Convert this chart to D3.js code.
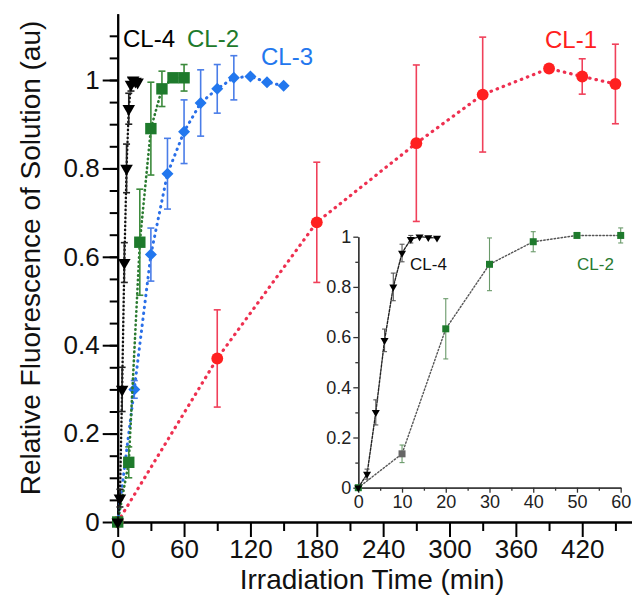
<!DOCTYPE html>
<html>
<head>
<meta charset="utf-8">
<script src="https://cdn.jsdelivr.net/npm/d3@7"></script>
<style>
  html, body { margin: 0; padding: 0; background: #fff; }
  svg { display: block; font-family: "Liberation Sans", Arial, sans-serif; }
</style>
</head>
<body>
<div class="chart"></div>
<script>
// irradiation time (min), relative fluorescence, +/- error
const cl1Time = [0, 90, 180, 270, 330, 390, 420, 450];
const cl1Value = [0, 0.37, 0.678, 0.857, 0.967, 1.026, 1.008, 0.991];
const cl1Err = [0, 0.11, 0.136, 0.177, 0.13, 0, 0.04, 0.09];

const cl3Time = [0, 15, 30, 45, 60, 75, 90, 105, 120, 135, 150];
const cl3Value = [0, 0.30, 0.605, 0.788, 0.883, 0.948, 0.98, 1.005, 1.008, 0.995, 0.987];
const cl3Err = [0, 0.02, 0.06, 0.08, 0.072, 0.075, 0.055, 0.05, 0, 0, 0];

const cl2Time = [0, 10, 20, 30, 40, 50, 60];
const cl2Value = [0, 0.135, 0.633, 0.89, 0.98, 1.005, 1.005];
const cl2Err = [0, 0.035, 0.12, 0.105, 0.04, 0.005, 0.03];

const cl4Time = [0, 2, 4, 6, 8, 10, 12, 14, 16, 18];
const cl4Value = [0, 0.054, 0.30, 0.587, 0.80, 0.935, 0.99, 1.0, 0.997, 0.995];
const cl4Err = [0, 0.02, 0.05, 0.045, 0.055, 0.035, 0.015, 0, 0, 0];

const mainXTicks = [0, 60, 120, 180, 240, 300, 360, 420];
const mainYTicks = [0, 0.2, 0.4, 0.6, 0.8, 1];
const insetXTicks = [0, 10, 20, 30, 40, 50, 60];
const insetYTicks = [0, 0.2, 0.4, 0.6, 0.8, 1];

const config = {
  width: 632,
  height: 603,
  font: '"Liberation Sans", Arial, sans-serif'
};

const series = [
  { name: 'CL-1', time: cl1Time, value: cl1Value, err: cl1Err, color: '#ff2020', errColor: '#f0405a',
    lineColor: '#ee3050', dash: '0.5 6', lineWidth: 3.2, symbol: 'circle', size: 110,
    label: [545, 48] },
  { name: 'CL-3', time: cl3Time, value: cl3Value, err: cl3Err, color: '#2277ee', errColor: '#4a7de8',
    lineColor: '#2a6fe8', dash: '0.5 5.5', lineWidth: 3, symbol: 'diamond', size: 72,
    label: [261, 65] },
  { name: 'CL-2', time: cl2Time, value: cl2Value, err: cl2Err, color: '#1e7a2c', errColor: '#3b8a3b',
    lineColor: '#2a7a30', dash: '0.5 4', lineWidth: 2.6, symbol: 'square', size: 130,
    label: [187, 47] },
  { name: 'CL-4', time: cl4Time, value: cl4Value, err: cl4Err, color: '#000', errColor: '#222',
    lineColor: '#111', dash: '0.5 3.5', lineWidth: 2.4, symbol: 'triangle', size: 68,
    label: [123, 47] }
];

const chart = {};

function symbolPath(type, size) {
  if (type === 'circle') return d3.symbol(d3.symbolCircle, size)();
  if (type === 'square') return d3.symbol(d3.symbolSquare, size)();
  if (type === 'diamond') return d3.symbol(d3.symbolSquare, size)();
  return d3.symbol(d3.symbolTriangle, size)();
}

function symbolRotate(type) {
  if (type === 'diamond') return ' rotate(45)';
  if (type === 'triangle') return ' rotate(180)';
  return '';
}

function drawSeries($g, s, x, y, opts) {
  const pts = s.time.map((t, i) => ({ t: t, v: s.value[i], e: s.err[i] }));
  const line = d3.line().x(d => x(d.t)).y(d => y(d.v));

  $g.append('path')
    .datum(pts)
    .attr('d', line)
    .attr('fill', 'none')
    .attr('stroke', opts.lineColor || s.lineColor)
    .attr('stroke-width', opts.lineWidth || s.lineWidth)
    .attr('stroke-dasharray', opts.dash || s.dash)
    .attr('stroke-linecap', 'round');

  const bars = $g.selectAll(null)
    .data(pts.filter(d => d.e > 0))
    .enter()
    .append('g')
    .attr('stroke', opts.errColor || s.errColor)
    .attr('stroke-width', opts.errWidth || 1.6);

  bars.append('line')
    .attr('x1', d => x(d.t)).attr('x2', d => x(d.t))
    .attr('y1', d => y(d.v - d.e)).attr('y2', d => y(d.v + d.e));
  [-1, 1].forEach(sign => {
    bars.append('line')
      .attr('x1', d => x(d.t) - opts.cap).attr('x2', d => x(d.t) + opts.cap)
      .attr('y1', d => y(d.v + sign * d.e)).attr('y2', d => y(d.v + sign * d.e));
  });

  $g.selectAll(null)
    .data(pts)
    .enter()
    .append('path')
    .attr('d', (d, i) => symbolPath(s.symbol, opts.sizeOf ? opts.sizeOf(i) : s.size))
    .attr('transform', d => `translate(${x(d.t)},${y(d.v)})` + symbolRotate(s.symbol))
    .attr('fill', (d, i) => opts.colorOf ? opts.colorOf(i) : s.color);
}

function render() {
  chart.$svg = d3.select('.chart')
    .append('svg')
    .attr('width', config.width)
    .attr('height', config.height)
    .attr('viewBox', `0 0 ${config.width} ${config.height}`);

  chart.$svg.append('rect')
    .attr('width', config.width).attr('height', config.height).attr('fill', '#fff');

  chart.x = d3.scaleLinear().domain([0, 465]).range([117.7, 632]);
  chart.y = d3.scaleLinear().domain([0, 1.15]).range([522, 13.7]);

  // main axes: minor ticks first, then labelled major ticks
  const $axes = chart.$svg.append('g');

  $axes.append('g')
    .attr('transform', `translate(0,${chart.y(0)})`)
    .call(d3.axisBottom(chart.x).tickValues(d3.range(30, 465, 60)).tickSize(9).tickSizeOuter(0).tickFormat(''));
  $axes.append('g')
    .attr('transform', `translate(0,${chart.y(0)})`)
    .call(d3.axisBottom(chart.x).tickValues(mainXTicks).tickSize(15).tickSizeOuter(0).tickPadding(3));

  $axes.append('g')
    .attr('transform', `translate(${chart.x(0)},0)`)
    .call(d3.axisLeft(chart.y).tickValues(d3.range(0, 23).map(i => i * 0.05).filter(v => v > 0)).tickSize(8).tickSizeOuter(0).tickFormat(''));
  $axes.append('g')
    .attr('transform', `translate(${chart.x(0)},0)`)
    .call(d3.axisLeft(chart.y).tickValues(mainYTicks).tickSize(15).tickSizeOuter(0).tickPadding(3)
      .tickFormat(d => (d === 0 || d === 1) ? d : d.toFixed(1)));

  $axes.selectAll('path.domain, line').attr('stroke', '#000').attr('stroke-width', 2);
  $axes.selectAll('text')
    .attr('font-family', config.font)
    .attr('font-size', 26)
    .attr('fill', '#111');

  chart.$svg.append('text')
    .attr('transform', 'translate(40,258) rotate(-90)')
    .attr('text-anchor', 'middle')
    .attr('font-size', 28)
    .attr('fill', '#111')
    .text('Relative Fluorescence of Solution (au)');

  chart.$svg.append('text')
    .attr('x', 372)
    .attr('y', 589)
    .attr('text-anchor', 'middle')
    .attr('font-size', 28)
    .attr('fill', '#111')
    .text('Irradiation Time (min)');

  // inset
  chart.ix = d3.scaleLinear().domain([0, 60]).range([358.3, 620.7]);
  chart.iy = d3.scaleLinear().domain([0, 1]).range([487.7, 236.7]);

  const $inset = chart.$svg.append('g');

  $inset.append('g')
    .attr('transform', `translate(0,${chart.iy(0)})`)
    .call(d3.axisBottom(chart.ix).tickValues(d3.range(5, 60, 10)).tickSize(3).tickSizeOuter(0).tickFormat(''));
  $inset.append('g')
    .attr('transform', `translate(0,${chart.iy(0)})`)
    .call(d3.axisBottom(chart.ix).tickValues(insetXTicks).tickSize(5).tickSizeOuter(0).tickPadding(3));
  $inset.append('g')
    .attr('transform', `translate(${chart.ix(0)},0)`)
    .call(d3.axisLeft(chart.iy).tickValues([0.1, 0.3, 0.5, 0.7, 0.9]).tickSize(3).tickSizeOuter(0).tickFormat(''));
  $inset.append('g')
    .attr('transform', `translate(${chart.ix(0)},0)`)
    .call(d3.axisLeft(chart.iy).tickValues(insetYTicks).tickSize(5).tickSizeOuter(0).tickPadding(2)
      .tickFormat(d => (d === 0 || d === 1) ? d : d.toFixed(1)));

  $inset.selectAll('path.domain, line').attr('stroke', '#333').attr('stroke-width', 1.3);
  $inset.selectAll('text')
    .attr('font-family', config.font)
    .attr('font-size', 18)
    .attr('fill', '#222');

  // main series
  series.forEach(s => {
    const $g = chart.$svg.append('g');
    drawSeries($g, s, chart.x, chart.y, { cap: 3.5 });
    chart.$svg.append('text')
      .attr('x', s.label[0])
      .attr('y', s.label[1])
      .attr('font-size', 24)
      .attr('fill', s.color)
      .text(s.name);
  });

  // inset series: CL-2 and CL-4
  const cl2 = series.find(s => s.name === 'CL-2');
  const cl4 = series.find(s => s.name === 'CL-4');

  drawSeries($inset.append('g'), cl2, chart.ix, chart.iy, {
    cap: 2.5, lineColor: '#555', lineWidth: 1.4, dash: '1.5 2', errColor: '#6a9a6a', errWidth: 1.1,
    sizeOf: () => 49, colorOf: i => i === 1 ? '#666' : '#1e7a2c'
  });
  drawSeries($inset.append('g'), cl4, chart.ix, chart.iy, {
    cap: 2.5, lineColor: '#222', lineWidth: 1.4, dash: '2.5 1.5', errColor: '#555', errWidth: 1.1,
    sizeOf: () => 28
  });

  $inset.append('text')
    .attr('x', 410).attr('y', 270)
    .attr('font-size', 17).attr('fill', '#111')
    .text('CL-4');
  $inset.append('text')
    .attr('x', 577).attr('y', 270)
    .attr('font-size', 17).attr('fill', '#2a7a30')
    .text('CL-2');
}

render();
</script>
</body>
</html>
